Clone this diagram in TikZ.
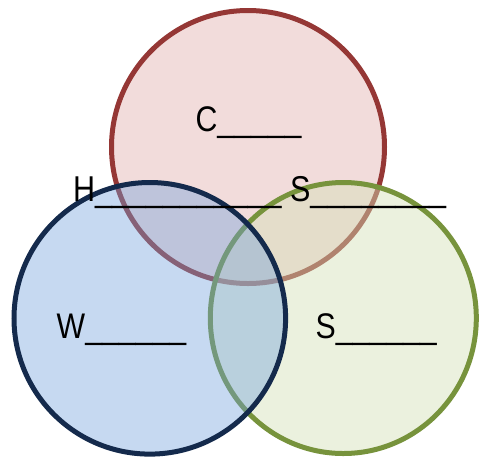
\documentclass[tikz,border=0pt]{standalone}
\usepackage{fontspec}
\setmainfont{Liberation Sans}[FakeStretch=0.85]
\definecolor{redline}{HTML}{953735}
\definecolor{redfill}{HTML}{F2DCDB}
\definecolor{greenline}{HTML}{77933C}
\definecolor{greenfill}{HTML}{D3E0B6}
\definecolor{blueline}{HTML}{142A4C}
\definecolor{bluefill}{HTML}{70A0DC}
\begin{document}
\begin{tikzpicture}[x=1pt,y=-1pt,
  ring/.style={line width=5pt},
  lbl/.style={anchor=base west,inner sep=0pt,outer sep=0pt,text=black,
    font=\fontsize{35.6}{40}\selectfont}]
\useasboundingbox (0,0) rectangle (479,459);
% red circle (bottom layer)
\draw[ring,draw=redline,fill=redfill] (248,147) circle[radius=136.5];
% green circle
\draw[ring,draw=greenline,fill=greenfill,fill opacity=0.45] (343.3,318) ellipse[x radius=133,y radius=135.5];
% blue circle (top layer)
\draw[ring,draw=blueline,fill=bluefill,fill opacity=0.4] (149.8,318.3) circle[radius=135.8];
% labels
\node[lbl] (c) at (195.5,131.5) {C\_\_\_\_\_};
\node[lbl,font=\fontsize{35.9}{40}\selectfont] (hs) at (73,201.5) {H\_\_\_\_\_\_\_\_\_\_\_ S\_\_\_\_\_\_\_\_};
\node[lbl] (w) at (56.7,338) {W\_\_\_\_\_\_};
\node[lbl] (s) at (315.6,338) {S\_\_\_\_\_\_};
\end{tikzpicture}
\end{document}
